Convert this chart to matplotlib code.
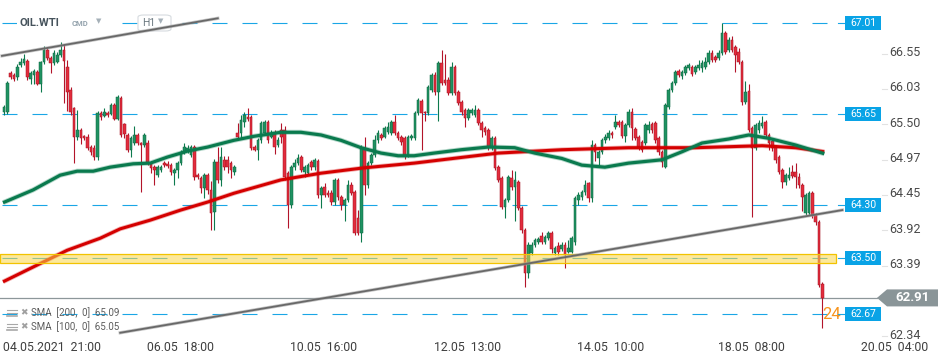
import numpy as np
import matplotlib.pyplot as plt
import matplotlib.transforms as mtransforms
from matplotlib.patches import Rectangle, Polygon, FancyBboxPatch

plt.rcParams['font.family'] = ['Roboto', 'DejaVu Sans']
plt.rcParams['lines.scale_dashes'] = False

# hourly candles OIL.WTI, 04.05.2021 21:00 ->
opens = [65.68, 65.68, 66.26, 66.23, 66.20, 66.38, 66.41, 66.44, 66.18, 66.23,
         66.28, 66.10, 66.43, 66.61, 66.49, 66.41, 66.43, 66.53, 66.61, 66.35,
         66.01, 65.74, 65.31, 65.41, 65.32, 65.31, 65.16, 65.15, 65.01, 65.67,
         65.63, 65.67, 65.66, 65.79, 65.58, 65.89, 65.50, 65.34, 65.12, 65.22,
         65.34, 65.22, 65.19, 65.22, 64.92, 64.86, 64.74, 64.82, 64.92, 64.91,
         64.89, 64.77, 64.82, 64.92, 65.09, 65.10, 65.04, 65.16, 64.74, 64.70,
         64.55, 64.74, 64.52, 64.19, 64.94, 64.67, 64.97, 64.97, 64.92, 64.79,
         65.37, 65.37, 65.53, 65.61, 65.61, 65.16, 65.12, 65.26, 65.37, 65.53,
         65.31, 65.37, 65.19, 65.41, 65.41, 64.77, 64.30, 64.86, 64.92, 65.01,
         64.79, 64.77, 64.94, 64.86, 64.95, 64.44, 64.56, 64.48, 64.48, 64.34,
         64.67, 64.41, 64.30, 64.37, 64.59, 64.49, 64.10, 63.88, 65.15, 64.59,
         64.92, 65.04, 65.26, 65.34, 65.31, 65.39, 65.37, 65.53, 65.37, 65.31,
         65.29, 65.04, 65.29, 65.29, 65.67, 65.85, 65.68, 65.67, 66.01, 66.23,
         65.98, 66.41, 66.16, 66.16, 65.97, 66.35, 65.98, 65.83, 65.71, 65.59,
         65.67, 65.64, 65.71, 65.52, 65.44, 65.41, 65.16, 65.29, 64.86, 64.70,
         64.27, 64.37, 64.70, 64.56, 64.64, 64.25, 63.92, 63.28, 63.58, 63.70,
         63.74, 63.83, 63.74, 63.80, 63.88, 63.58, 63.68, 63.64, 63.70, 63.60,
         63.60, 63.74, 64.37, 64.41, 64.49, 64.62, 64.40, 65.19, 64.99, 65.09,
         65.26, 65.29, 65.37, 65.46, 65.53, 65.53, 65.32, 65.49, 65.68, 65.43,
         65.31, 65.24, 65.22, 65.41, 65.50, 65.52, 65.29, 65.09, 64.86, 65.76,
         66.01, 66.12, 66.29, 66.22, 66.26, 66.34, 66.35, 66.28, 66.34, 66.34,
         66.35, 66.43, 66.56, 66.50, 66.49, 66.56, 66.86, 66.61, 66.76, 66.65,
         66.58, 66.43, 65.83, 65.99, 65.44, 65.15, 65.41, 65.48, 65.53, 65.34,
         65.25, 65.16, 65.01, 64.82, 64.64, 64.70, 64.79, 64.79, 64.71, 64.59,
         64.18, 64.18, 64.48, 64.15, 64.04, 63.12]
highs = [65.78, 66.14, 66.30, 66.26, 66.40, 66.49, 66.55, 66.47, 66.30, 66.32,
         66.31, 66.45, 66.66, 66.65, 66.52, 66.61, 66.58, 66.73, 66.70, 66.46,
         66.05, 65.76, 65.71, 65.44, 65.34, 65.36, 65.19, 65.19, 65.70, 65.70,
         65.74, 65.70, 65.82, 65.82, 65.94, 65.92, 65.52, 65.37, 65.32, 65.47,
         65.37, 65.24, 65.37, 65.26, 64.95, 64.89, 64.89, 64.89, 64.95, 64.95,
         64.92, 64.85, 64.95, 65.12, 65.22, 65.19, 65.19, 65.19, 64.77, 64.73,
         64.77, 64.77, 64.65, 64.98, 65.16, 65.16, 65.03, 65.03, 64.95, 64.89,
         65.52, 65.64, 65.69, 65.74, 65.64, 65.19, 65.29, 65.55, 65.56, 65.56,
         65.41, 65.41, 65.31, 65.52, 65.47, 64.80, 64.89, 64.98, 65.06, 65.04,
         64.89, 64.92, 64.97, 65.00, 64.98, 64.58, 64.62, 64.52, 64.52, 64.70,
         64.70, 64.44, 64.40, 64.67, 64.64, 64.52, 64.22, 65.19, 65.31, 64.95,
         65.07, 65.34, 65.41, 65.37, 65.47, 65.53, 65.56, 65.64, 65.40, 65.34,
         65.32, 65.34, 65.36, 65.70, 65.89, 65.88, 65.70, 66.09, 66.26, 66.28,
         66.44, 66.61, 66.55, 66.20, 66.43, 66.38, 66.01, 65.86, 65.74, 65.74,
         65.74, 65.78, 65.74, 65.55, 65.47, 65.44, 65.32, 65.32, 64.89, 64.73,
         64.40, 64.74, 64.82, 64.80, 64.67, 64.28, 63.95, 63.74, 63.74, 63.80,
         63.82, 63.89, 63.85, 63.91, 63.91, 63.68, 63.74, 63.74, 63.74, 63.77,
         63.83, 64.43, 64.49, 64.52, 64.67, 64.64, 65.26, 65.22, 65.12, 65.29,
         65.36, 65.41, 65.40, 65.64, 65.56, 65.56, 65.52, 65.72, 65.74, 65.46,
         65.34, 65.27, 65.52, 65.55, 65.53, 65.55, 65.32, 65.12, 65.82, 66.04,
         66.15, 66.31, 66.32, 66.31, 66.38, 66.41, 66.38, 66.38, 66.46, 66.46,
         66.51, 66.61, 66.61, 66.53, 66.61, 67.01, 66.89, 66.80, 66.82, 66.68,
         66.64, 66.46, 66.14, 66.10, 65.47, 65.52, 65.56, 65.62, 65.56, 65.37,
         65.28, 65.19, 65.04, 64.85, 64.77, 64.86, 64.89, 64.92, 64.77, 64.62,
         64.47, 64.51, 64.51, 64.18, 64.07, 63.14]
lows = [65.64, 65.66, 66.17, 66.14, 66.16, 66.35, 66.38, 66.16, 66.10, 66.10,
        66.08, 65.98, 66.40, 66.46, 66.26, 66.38, 66.41, 66.50, 65.82, 65.70,
        65.64, 64.92, 65.26, 65.20, 65.26, 65.12, 65.04, 64.97, 64.97, 65.56,
        65.61, 65.61, 65.64, 65.56, 65.56, 65.31, 65.29, 65.09, 65.01, 65.19,
        65.19, 64.49, 65.16, 64.89, 64.77, 64.59, 64.71, 64.79, 64.86, 64.85,
        64.74, 64.59, 64.70, 64.89, 65.06, 65.07, 65.01, 64.67, 64.68, 64.48,
        64.40, 64.46, 63.92, 63.92, 64.62, 64.58, 64.82, 64.77, 64.70, 64.74,
        65.29, 65.29, 65.46, 65.55, 65.12, 65.10, 64.97, 65.22, 65.34, 65.22,
        65.29, 65.05, 65.16, 65.22, 64.67, 63.95, 64.25, 64.82, 64.89, 64.79,
        64.71, 64.74, 64.82, 64.82, 64.40, 64.25, 64.41, 64.41, 64.30, 64.30,
        64.37, 64.22, 64.05, 64.34, 64.44, 63.85, 63.85, 63.75, 64.44, 64.55,
        64.89, 65.01, 65.22, 65.26, 65.29, 65.36, 65.34, 65.34, 65.26, 65.19,
        64.98, 65.01, 65.26, 65.26, 65.64, 65.12, 65.55, 65.64, 65.98, 65.94,
        65.55, 66.09, 66.09, 65.94, 65.94, 65.94, 65.79, 65.64, 65.46, 65.56,
        65.64, 65.61, 65.49, 65.31, 65.34, 65.12, 65.12, 64.82, 64.64, 64.24,
        64.10, 64.34, 64.52, 64.05, 64.22, 63.88, 63.07, 63.20, 63.55, 63.67,
        63.71, 63.71, 63.71, 63.77, 63.58, 63.55, 63.55, 63.61, 63.36, 63.58,
        63.58, 63.70, 64.30, 64.37, 64.44, 64.34, 64.34, 64.95, 64.89, 65.06,
        65.22, 65.26, 65.29, 65.43, 65.46, 65.29, 65.24, 65.46, 65.26, 65.26,
        65.12, 65.09, 65.19, 65.37, 65.37, 65.22, 65.04, 64.86, 64.84, 65.73,
        65.98, 66.09, 66.20, 66.18, 66.23, 66.31, 66.22, 66.25, 66.31, 66.28,
        66.32, 66.40, 66.43, 66.43, 66.46, 66.53, 66.55, 66.58, 66.58, 66.28,
        66.40, 65.79, 65.80, 65.38, 64.12, 65.12, 65.37, 65.44, 65.31, 65.12,
        65.10, 64.92, 64.76, 64.55, 64.59, 64.67, 64.70, 64.55, 64.55, 64.20,
        64.15, 64.15, 64.10, 64.00, 63.07, 62.46]
closes = [65.76, 66.12, 66.20, 66.18, 66.35, 66.43, 66.47, 66.20, 66.26, 66.29,
          66.10, 66.43, 66.61, 66.49, 66.41, 66.56, 66.53, 66.61, 66.44, 65.98,
          65.68, 65.31, 65.41, 65.29, 65.29, 65.15, 65.09, 65.01, 65.67, 65.61,
          65.68, 65.64, 65.79, 65.58, 65.91, 65.34, 65.36, 65.12, 65.29, 65.34,
          65.22, 65.19, 65.34, 64.92, 64.85, 64.82, 64.86, 64.86, 64.89, 64.88,
          64.79, 64.82, 64.92, 65.09, 65.16, 65.15, 65.16, 64.71, 64.71, 64.55,
          64.74, 64.52, 64.18, 64.94, 64.67, 65.01, 64.86, 64.86, 64.82, 64.86,
          65.31, 65.56, 65.64, 65.58, 65.15, 65.12, 65.26, 65.52, 65.53, 65.26,
          65.37, 65.16, 65.26, 65.31, 64.71, 64.30, 64.86, 64.92, 64.99, 64.82,
          64.86, 64.89, 64.86, 64.97, 64.44, 64.55, 64.44, 64.44, 64.34, 64.67,
          64.41, 64.30, 64.37, 64.59, 64.48, 63.88, 63.88, 65.15, 64.59, 64.92,
          65.04, 65.26, 65.37, 65.29, 65.44, 65.46, 65.53, 65.37, 65.29, 65.24,
          65.04, 65.31, 65.32, 65.67, 65.86, 65.67, 65.67, 66.06, 66.23, 65.98,
          66.41, 66.12, 66.12, 65.97, 66.35, 65.97, 65.82, 65.68, 65.59, 65.71,
          65.71, 65.71, 65.52, 65.41, 65.39, 65.16, 65.29, 64.85, 64.67, 64.27,
          64.37, 64.71, 64.56, 64.67, 64.25, 63.92, 63.28, 63.70, 63.70, 63.77,
          63.79, 63.74, 63.82, 63.88, 63.64, 63.65, 63.60, 63.70, 63.55, 63.65,
          63.80, 64.40, 64.44, 64.49, 64.59, 64.40, 65.19, 65.09, 65.09, 65.26,
          65.31, 65.37, 65.34, 65.53, 65.49, 65.32, 65.49, 65.68, 65.44, 65.29,
          65.16, 65.12, 65.49, 65.49, 65.41, 65.26, 65.09, 64.94, 65.79, 66.01,
          66.12, 66.28, 66.23, 66.28, 66.35, 66.38, 66.25, 66.35, 66.38, 66.41,
          66.43, 66.56, 66.46, 66.46, 66.56, 66.86, 66.58, 66.76, 66.61, 66.53,
          66.43, 65.83, 65.98, 65.41, 65.15, 65.49, 65.52, 65.52, 65.34, 65.22,
          65.15, 64.97, 64.79, 64.64, 64.74, 64.74, 64.73, 64.71, 64.59, 64.41,
          64.44, 64.48, 64.15, 64.04, 63.10, 62.91]

# moving averages (bar index, price)
sma100_idx = [-0.3, 8.7, 16.8, 21.9, 26.7, 31.8, 38.7, 43.8, 48.9, 55, 61, 68.8,
              74.8, 82.9, 88.9, 94.9, 100.9, 106.9, 112.9, 118, 122.8, 128.8,
              136.9, 145, 152.9, 158.9, 167, 173, 179.9, 187, 197, 203, 209,
              217, 223, 229, 237, 245.6]
sma100_val = [64.33, 64.52, 64.74, 64.80, 64.80, 64.86, 64.91, 64.92, 65.01,
              65.10, 65.16, 65.26, 65.32, 65.38, 65.38, 65.34, 65.26, 65.15,
              65.07, 65.03, 65.03, 65.07, 65.12, 65.16, 65.15, 65.07, 64.99,
              64.89, 64.86, 64.92, 64.97, 65.09, 65.22, 65.28, 65.34, 65.29,
              65.19, 65.06]
sma200_idx = [-0.3, 8.7, 18.9, 28.8, 34.8, 43.8, 52.9, 61, 68.8, 82.9, 94.9,
              107.8, 122.8, 137.8, 148, 167, 187, 206.9, 227, 237, 245.6]
sma200_val = [63.15, 63.37, 63.62, 63.80, 63.94, 64.07, 64.22, 64.34, 64.47,
              64.67, 64.77, 64.85, 64.92, 65.01, 65.07, 65.12, 65.15, 65.15,
              65.18, 65.15, 65.09]

# drawn objects
levels = [67.01, 65.65, 64.30, 63.50, 62.67]
zone = [63.435, 63.565]
upper_trend = ([-0.6, 64.0], [66.52, 67.08])
lower_trend = ([34.8, 251.0], [62.39, 64.22])
last_price = 62.91

price_ticks = [66.55, 66.03, 65.50, 64.97, 64.45, 63.92, 63.39, 62.34]
time_idx = [0, 43, 86, 129, 172, 214, 257]
time_labels = ['04.05.2021  21:00', '06.05  18:00', '10.05  16:00', '12.05  13:00',
               '14.05  10:00', '18.05  08:00', '20.05  04:00']
legend_rows = ['SMA  [200,  0]  65.09', 'SMA  [100,  0]  65.05']

W, H = 950, 360
bar_px = 3.34
ppu = 67.05  # pixels per price unit

fig = plt.figure(figsize=(9.5, 3.6), dpi=100)
ax = fig.add_axes([0, 0, 1, 1])
ax.set_axis_off()
ax.set_xlim(-4 / bar_px, (W - 4) / bar_px)
ax.set_ylim(67.01 - (H - 23) / ppu, 67.01 + 23 / ppu)


def px(x):
    return (x - 4) / bar_px


def fx(x):
    return x / W


def fy(y):
    return 1 - y / H


blend = mtransforms.blended_transform_factory(ax.transAxes, ax.transData)
blend_x = mtransforms.blended_transform_factory(ax.transData, ax.transAxes)

o = np.asarray(opens)
hi = np.asarray(highs)
lo = np.asarray(lows)
c = np.asarray(closes)
idx = np.arange(len(c))
up = c >= o
bottom = np.minimum(o, c)
height = np.maximum(np.abs(c - o), 0.014)

# horizontal levels
blue = '#1aa6e6'
for lvl in levels:
    ax.plot([px(2), px(838)], [lvl, lvl], color=blue, lw=0.8, dashes=(10.8, 10.8), zorder=2)

# candles
for mask, wick, fill, edge in [(up, '#0d7a4d', '#1f9262', '#0b6640'),
                               (~up, '#b3142a', '#e22c3d', '#a3101f')]:
    ax.vlines(idx[mask], lo[mask], hi[mask], color=wick, lw=0.8, zorder=3)
    ax.bar(idx[mask], height[mask], bottom=bottom[mask], width=0.78,
           color=fill, edgecolor=edge, linewidth=0.35, zorder=4)

# moving averages
ax.plot(sma200_idx, sma200_val, color='#d80000', lw=3.4, alpha=0.3, zorder=5, solid_capstyle='butt')
ax.plot(sma200_idx, sma200_val, color='#d40000', lw=2.2, zorder=5, solid_capstyle='butt')
ax.plot(sma100_idx, sma100_val, color='#0a7d50', lw=3.6, alpha=0.3, zorder=5, solid_capstyle='butt')
ax.plot(sma100_idx, sma100_val, color='#0a7a4e', lw=2.3, zorder=5, solid_capstyle='butt')

# trend lines
for xs, ys in [upper_trend, lower_trend]:
    ax.plot(xs, ys, color='#a0a0a0', lw=2.4, alpha=0.6, zorder=8)
    ax.plot(xs, ys, color='#686868', lw=1.3, zorder=8)

# yellow zone
ax.add_patch(Rectangle((px(0), zone[0]), px(836) - px(0), zone[1] - zone[0],
                       facecolor='#fbd64a', alpha=0.55, edgecolor='none', zorder=6))
ax.add_patch(Rectangle((px(0), zone[0]), px(836) - px(0), zone[1] - zone[0],
                       facecolor='none', edgecolor='#f2c300', lw=0.9, zorder=6))

# last price line and tag
ax.plot([px(0), px(877)], [last_price, last_price], color='#8d979a', lw=0.9, zorder=2.5)
d = 8.5 / ppu
ax.add_patch(Polygon([(fx(877), last_price), (fx(887), last_price + d), (fx(938), last_price + d),
                      (fx(938), last_price - d), (fx(887), last_price - d)],
                     closed=True, transform=blend, facecolor='#8a9598', edgecolor='none', zorder=9))
ax.text(fx(913), last_price, '%.2f' % last_price, transform=blend, ha='center', va='center',
        color='white', fontsize=9.5, fontweight='bold', zorder=10)

# countdown text next to the level box
ax.text(fx(822), 62.66, '24', transform=blend, ha='left', va='center',
        color='#f7941d', fontsize=12, zorder=7)

# level price boxes
bh = 7 / ppu
for lvl in levels:
    ax.plot([fx(838), fx(845)], [lvl, lvl], transform=blend, color=blue, lw=0.8, zorder=9)
    ax.add_patch(Rectangle((fx(845), lvl - bh), 36 / W, 2 * bh, transform=blend,
                           facecolor='#09a3e6', edgecolor='none', zorder=9))
    ax.text(fx(863), lvl, '%.2f' % lvl, transform=blend, ha='center', va='center',
            color='white', fontsize=7.5, zorder=10)

# price axis labels
for t in price_ticks:
    ax.plot([fx(882), fx(887)], [t, t], transform=blend, color='#e2e2e2', lw=0.8, zorder=9)
    ax.text(fx(889), t + 0.015, '%.2f' % t, transform=blend, ha='left', va='center',
            color='#4a4a4a', fontsize=9, zorder=10)

# time labels
for i, lab in zip(time_idx, time_labels):
    ax.text(i - 0.3, fy(351), lab, transform=blend_x, ha='left', va='baseline',
            color='#3f3f3f', fontsize=8.8, zorder=10)

# legend rows
for k, row in enumerate(legend_rows):
    y = fy(313 + 14 * k)
    for dy in (-3, 0, 3):
        ax.plot([fx(7), fx(17)], [y + dy / H, y + dy / H], transform=ax.transAxes,
                color='#a8a8a8', lw=1.2 if dy == -3 else 0.8, zorder=10)
    ax.text(fx(20), y, '\u2716', transform=ax.transAxes, ha='left', va='center',
            color='#a0a0a0', fontsize=6.5, zorder=10)
    ax.text(fx(31), y, row, transform=ax.transAxes, ha='left', va='center',
            color='#5c5c5c', fontsize=7, zorder=10)

# header
ax.add_patch(Rectangle((fx(17), fy(31)), 98 / W, 16 / H, transform=ax.transAxes,
                       facecolor='white', edgecolor='none', zorder=7))
ax.text(fx(20), fy(23), 'OIL.WTI', transform=ax.transAxes, ha='left', va='center',
        color='#46535c', fontsize=8, fontweight='bold', zorder=7.5)
ax.text(fx(72), fy(24), 'CMD', transform=ax.transAxes, ha='left', va='center',
        color='#94a3ad', fontsize=5.5, fontweight='bold', zorder=7.5)
ax.text(fx(96), fy(22), '\u25bc', transform=ax.transAxes, ha='left', va='center',
        color='#a5b0b8', fontsize=5, zorder=7.5)
ax.add_patch(FancyBboxPatch((fx(138), fy(31)), 33 / W, 16 / H, transform=ax.transAxes,
                            boxstyle='round,pad=0,rounding_size=0.006',
                            facecolor='white', edgecolor='#d6dbdf', lw=0.8, zorder=7))
ax.text(fx(142), fy(23), 'H1', transform=ax.transAxes, ha='left', va='center',
        color='#6b7880', fontsize=7.5, zorder=7.5)
ax.text(fx(158), fy(22), '\u25bc', transform=ax.transAxes, ha='left', va='center',
        color='#a5b0b8', fontsize=5, zorder=7.5)

fig.savefig('out.png', dpi=100, facecolor='white')
